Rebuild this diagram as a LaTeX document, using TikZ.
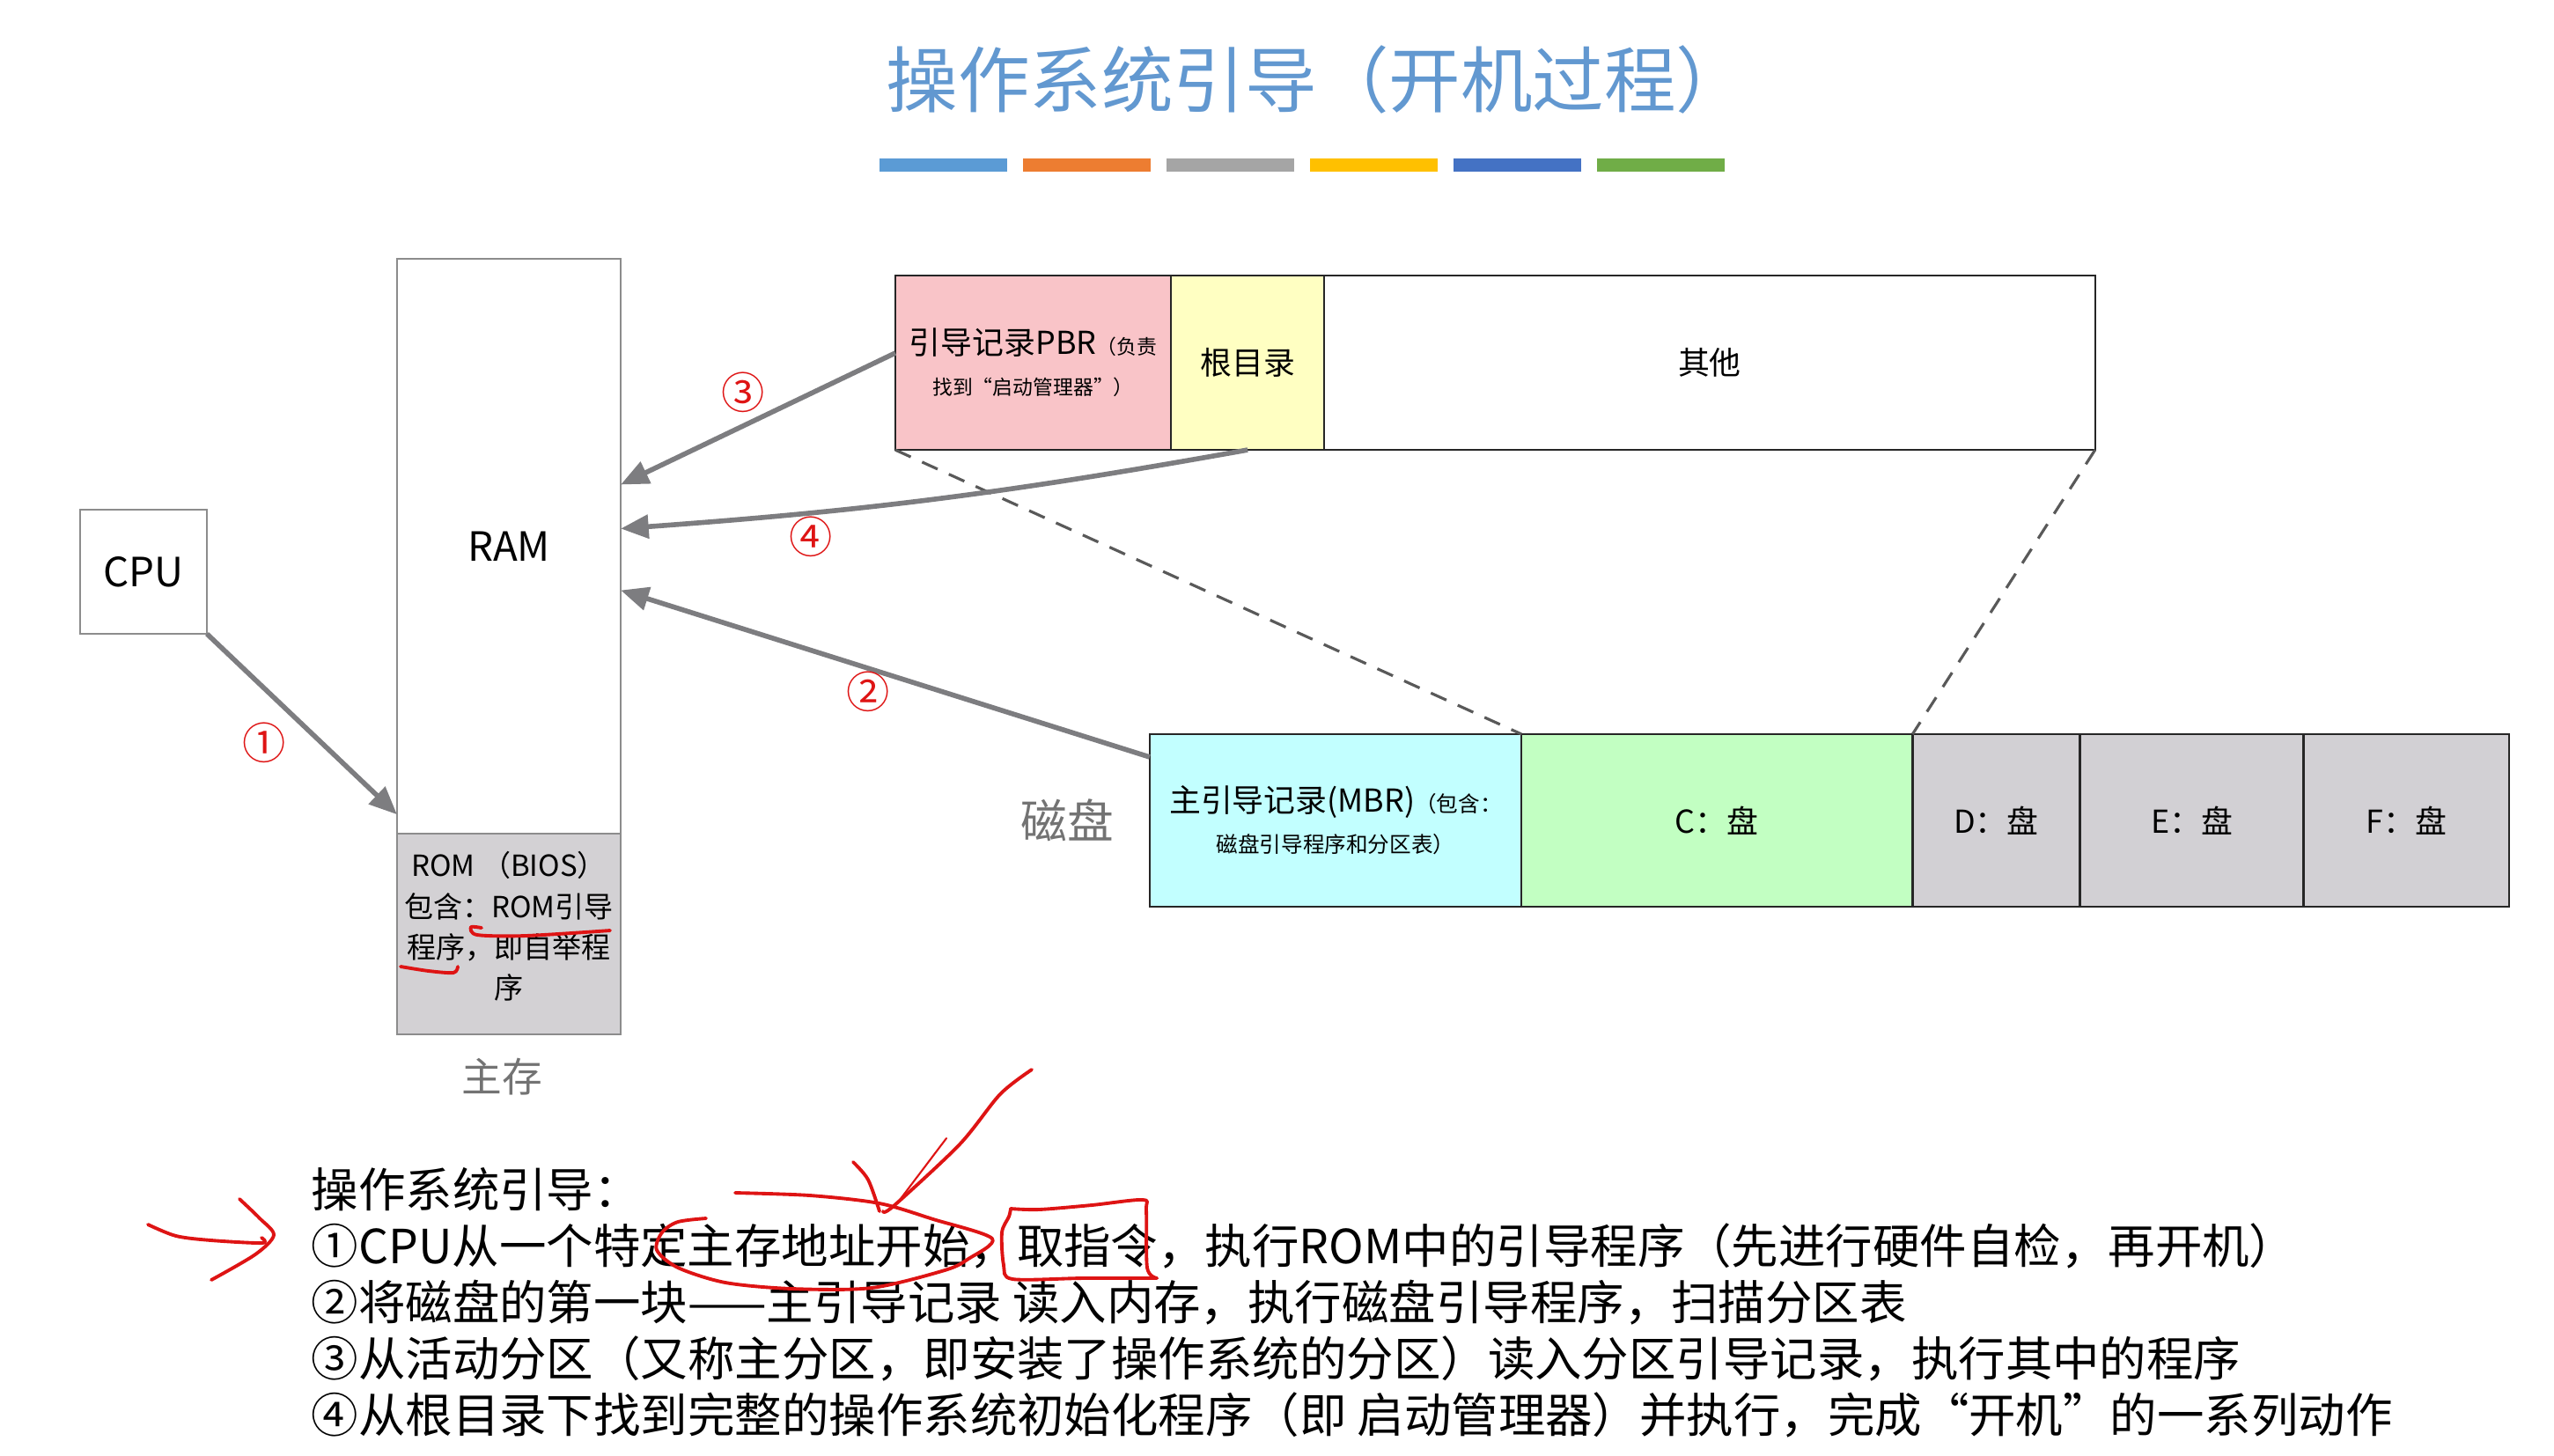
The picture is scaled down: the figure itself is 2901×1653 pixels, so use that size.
\documentclass[tikz,border=0pt]{standalone}
\usepackage{fontspec}
\setmainfont{Noto Sans CJK SC}
\usetikzlibrary{arrows.meta,positioning}

\definecolor{titleblue}{RGB}{98,152,208}
\definecolor{barA}{RGB}{91,155,213}
\definecolor{barB}{RGB}{237,125,49}
\definecolor{barC}{RGB}{165,165,165}
\definecolor{barD}{RGB}{255,192,0}
\definecolor{barE}{RGB}{68,114,196}
\definecolor{barF}{RGB}{112,173,71}
\definecolor{linegray}{RGB}{140,140,140}
\definecolor{arrowgray}{RGB}{125,125,128}
\definecolor{labelgray}{RGB}{115,115,115}
\definecolor{romgray}{RGB}{211,209,212}
\definecolor{diskgray}{RGB}{210,208,212}
\definecolor{pbrpink}{RGB}{249,196,200}
\definecolor{rootyellow}{RGB}{255,255,194}
\definecolor{mbrcyan}{RGB}{194,255,255}
\definecolor{cgreen}{RGB}{194,255,194}
\definecolor{penred}{RGB}{222,20,20}

\tikzset{
  memory/.style={draw=linegray, line width=0.5pt, fill=white, inner sep=0pt, outer sep=0pt,
    font=\fontsize{13}{15}\selectfont},
  part/.style={draw=black!85, line width=0.7pt, fill=white, inner sep=0pt, outer sep=0pt,
    minimum height=1.98cm, font=\fontsize{10.2}{12}\selectfont, align=center},
  flow/.style={draw=arrowgray, line width=1.6pt, -{Triangle[length=9pt,width=7.5pt]}},
  zoomline/.style={draw=black!65, line width=0.9pt, dash pattern=on 5.5pt off 4pt},
  stepno/.style={text=penred, font=\fontsize{14}{16}\selectfont, inner sep=0pt},
  tag/.style={text=labelgray, inner sep=0pt},
  pen/.style={draw=penred, line width=1.1pt, line cap=round, line join=round}
}

\begin{document}
\begin{tikzpicture}[x=0.01cm, y=-0.01cm]
  \useasboundingbox (0,0) rectangle (2901,1653);

  % title and colour bars
  \node[text=titleblue, font=\fontsize{23.2}{27}\selectfont, inner sep=0pt] (title) at (1496,90)
    {操作系统引导（开机过程）};
  \foreach \c [count=\i from 0] in {barA,barB,barC,barD,barE,barF}
    \fill[\c] ({999+\i*163},180) rectangle ++(145,15);

  % cpu and main memory
  \node[memory, minimum width=1.44cm, minimum height=1.41cm] (cpu) at (163,649.5) {CPU};
  \node[memory, minimum width=2.54cm, minimum height=6.53cm] (ram) at (578,620.5) {RAM};
  \node[memory, fill=romgray, minimum width=2.54cm, minimum height=2.28cm, below=0pt of ram] (rom) {};
  \node[inner sep=0pt, align=center, font=\fontsize{9.4}{13.1}\selectfont] (romtext)
    at ([yshift=0.09cm]rom.center) {ROM （BIOS）\\包含：ROM引导\\程序，即自举程\\序};
  \node[tag, font=\fontsize{13}{15}\selectfont] (mainmem) at (570,1223) {主存};

  % partition C: zoomed in
  \node[part, fill=pbrpink, minimum width=3.13cm] (pbr) at (1173.5,412)
    {引导记录PBR{\fontsize{6.5}{8}\selectfont（负责}\\[1pt]{\fontsize{6.5}{8}\selectfont 找到“启动管理器”）}};
  \node[part, fill=rootyellow, minimum width=1.74cm, right=0pt of pbr] (rootdir) {根目录};
  \node[part, minimum width=8.75cm, right=0pt of rootdir] (other) {其他};

  % disk
  \node[part, fill=mbrcyan, minimum width=4.22cm, minimum height=1.96cm] (mbr) at (1517,932)
    {主引导记录(MBR){\fontsize{7}{9}\selectfont（包含：}\\[1pt]{\fontsize{7}{9}\selectfont 磁盘引导程序和分区表）}};
  \node[part, fill=cgreen, minimum width=4.44cm, minimum height=1.96cm, right=0pt of mbr] (cdisk) {C：盘};
  \node[part, fill=diskgray, minimum width=1.90cm, minimum height=1.96cm, right=0pt of cdisk] (ddisk) {D：盘};
  \node[part, fill=diskgray, minimum width=2.54cm, minimum height=1.96cm, right=0pt of ddisk] (edisk) {E：盘};
  \node[part, fill=diskgray, minimum width=2.33cm, minimum height=1.96cm, right=0pt of edisk] (fdisk) {F：盘};
  \node[tag, font=\fontsize{15}{17}\selectfont] (disk) at (1212,932) {磁盘};

  \draw[zoomline] (pbr.south west) -- (cdisk.north west);
  \draw[zoomline] (other.south east) -- (cdisk.north east);

  % boot steps
  \draw[flow] (cpu.south east) -- ([yshift=0.22cm]ram.south west);
  \draw[flow] ([yshift=0.72cm]mbr.west) -- ([yshift=-0.5cm]ram.east);
  \draw[flow] ([yshift=0.11cm]pbr.west) -- ([yshift=0.7cm]ram.east);
  \draw[flow] (rootdir.south) to[bend left=3] ([yshift=0.2cm]ram.east);
  \node[stepno] (s1) at (300,844) {①};
  \node[stepno] (s2) at (986,786) {②};
  \node[stepno] (s3) at (844,446) {③};
  \node[stepno] (s4) at (921,610) {④};

  % explanation
  \node[anchor=north west, inner sep=0pt, align=left, font=\fontsize{15.2}{18.2}\selectfont] (steps) at (353,1326)
    {操作系统引导：\\
     ①CPU从一个特定主存地址开始，取指令，执行ROM中的引导程序（先进行硬件自检，再开机）\\
     ②将磁盘的第一块——主引导记录 读入内存，执行磁盘引导程序，扫描分区表\\
     ③从活动分区（又称主分区，即安装了操作系统的分区）读入分区引导记录，执行其中的程序\\
     ④从根目录下找到完整的操作系统初始化程序（即 启动管理器）并执行，完成“开机”的一系列动作};

  % hand-drawn marks
  \draw[pen] plot[smooth] coordinates {(168,1391) (200,1404) (240,1409) (298,1412) (297,1406)};
  \draw[pen] plot[smooth] coordinates {(272,1362) (295,1384) (311,1403) (290,1425) (240,1454)};
  \draw[pen] plot[smooth] coordinates {(1172,1215) (1136,1243) (1090,1300) (1015,1370) (1003,1376)};
  \draw[pen, line width=0.6pt] (1075,1293) -- (1019,1367);
  \draw[pen] plot[smooth] coordinates {(969,1320) (986,1340) (999,1376)};
  \draw[pen] plot[smooth] coordinates {(835,1355) (920,1358) (999,1367) (1060,1385) (1127,1407)
    (1100,1430) (1073,1443) (990,1463) (900,1464) (824,1457) (770,1440) (746,1420) (752,1400)
    (770,1388) (802,1384)};
  \draw[pen] plot[smooth] coordinates {(1148,1373) (1180,1374) (1240,1369) (1298,1363) (1302,1375)
    (1303,1440) (1314,1452)};
  \draw[pen] plot[smooth] coordinates {(1314,1452) (1230,1452) (1150,1453) (1140,1437) (1138,1400)
    (1146,1382) (1148,1373)};
  \draw[pen] plot[smooth] coordinates {(547,1054) (535,1053) (542,1062) (597,1063) (693,1057)};
  \draw[pen] plot[smooth] coordinates {(455,1098) (487,1103) (515,1105) (520,1098)};
\end{tikzpicture}
\end{document}
